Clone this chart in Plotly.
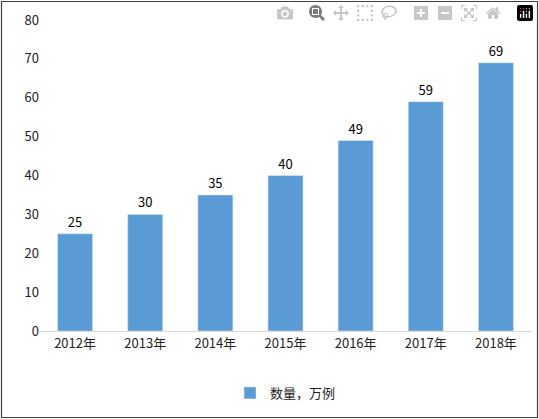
import plotly.graph_objects as go

categories = ["2012年", "2013年", "2014年", "2015年", "2016年", "2017年", "2018年"]
values = [25, 30, 35, 40, 49, 59, 69]
series_name = "数量，万例"

fig = go.Figure(go.Bar(
    x=categories, y=values, name=series_name,
    marker_color="#5B9BD5", width=0.5,
    text=values, textposition="outside", textfont=dict(size=13, color="#000"),
    cliponaxis=False,
))
L, R, T, B = 40, 8, 20, 88
W, H = 539, 419
pw, ph = W - L - R, H - T - B
def px(x): return (x - L) / pw
def py(y): return (H - B - y) / ph
fig.update_layout(
    width=W, height=H, margin=dict(l=L, r=R, t=T, b=B),
    paper_bgcolor="white", plot_bgcolor="white",
    font=dict(family="Noto Sans CJK SC, sans-serif", size=12, color="#222"),
    showlegend=True,
    legend=dict(orientation="h", x=0.5, xanchor="center", y=py(393), yanchor="middle",
                font=dict(size=13)),
    xaxis=dict(showline=True, linecolor="#d9d9d9", linewidth=1, ticks="", tickfont=dict(size=13)),
    yaxis=dict(range=[0, 80], dtick=10, showgrid=False, zeroline=False, showline=False,
               tickfont=dict(size=13)),
    shapes=[dict(type="rect", xref="paper", yref="paper",
                 x0=px(1.5), x1=px(537.5), y0=py(417.5), y1=py(1.5),
                 line=dict(color="#404040", width=1.2))],
)
fig.write_html("out.html",
               post_script="document.body.style.margin='0';document.body.style.overflow='hidden';")
